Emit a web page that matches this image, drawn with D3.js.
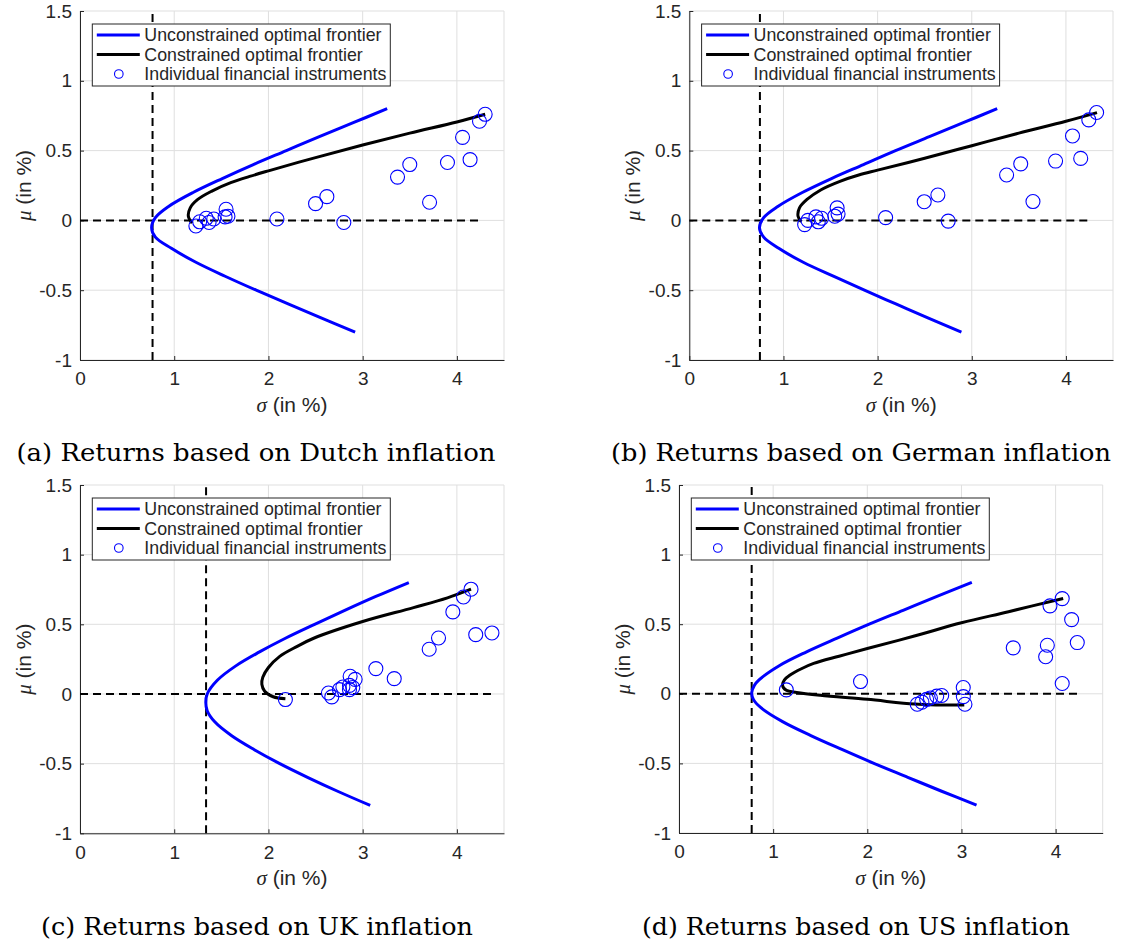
<!DOCTYPE html>
<html>
<head>
<meta charset="utf-8">
<script src="https://cdn.jsdelivr.net/npm/d3@7"></script>
<style>
  body { margin: 0; background: #fff; }
  svg { display: block; }
</style>
</head>
<body>
<script>
// values: [sigma, mu] in %

const sigmaTicks = [0, 1, 2, 3, 4];
const muTicks = [-1, -0.5, 0, 0.5, 1, 1.5];
const legendLabels = ["Unconstrained optimal frontier", "Constrained optimal frontier", "Individual financial instruments"];
const captions = [
  "(a) Returns based on Dutch inflation",
  "(b) Returns based on German inflation",
  "(c) Returns based on UK inflation",
  "(d) Returns based on US inflation"
];

// (a) Dutch
const unconstrainedNL = [[2.92,-0.80],[2.565,-0.70],[2.215,-0.60],[1.87,-0.50],[1.54,-0.40],[1.23,-0.30],[0.97,-0.20],[0.80,-0.12],[0.76,-0.05],[0.80,0.02],[0.94,0.10],[1.20,0.20],[1.51,0.30],[1.84,0.40],[2.19,0.50],[2.54,0.60],[2.90,0.70],[3.26,0.80]];
const constrainedNL = [[1.19,-0.02],[1.15,0.03],[1.17,0.09],[1.25,0.15],[1.40,0.21],[1.60,0.27],[1.80,0.315],[2.0,0.355],[2.5,0.45],[3.0,0.54],[3.5,0.625],[4.0,0.705],[4.30,0.76]];
const assetsNL = [[1.23,-0.04],[1.27,-0.01],[1.34,0.015],[1.37,-0.015],[1.42,0.01],[1.55,0.08],[1.57,0.03],[1.54,0.025],[2.09,0.01],[2.50,0.12],[2.62,0.17],[2.80,-0.015],[3.37,0.31],[3.50,0.40],[3.71,0.13],[3.90,0.415],[4.06,0.595],[4.14,0.435],[4.24,0.71],[4.30,0.76]];

// (b) German
const unconstrainedDE = [[2.89,-0.80],[2.54,-0.70],[2.20,-0.60],[1.86,-0.50],[1.53,-0.40],[1.21,-0.30],[0.95,-0.20],[0.79,-0.12],[0.745,-0.053],[0.79,0.02],[0.94,0.10],[1.20,0.20],[1.51,0.30],[1.85,0.40],[2.19,0.50],[2.55,0.60],[2.91,0.70],[3.27,0.80]];
const constrainedDE = [[1.19,-0.01],[1.155,0.03],[1.17,0.09],[1.25,0.15],[1.40,0.22],[1.60,0.28],[1.80,0.325],[2.0,0.36],[2.5,0.445],[3.0,0.535],[3.5,0.625],[4.0,0.71],[4.33,0.772]];
const assetsDE = [[1.225,-0.03],[1.26,0.0],[1.345,0.025],[1.37,-0.01],[1.405,0.015],[1.57,0.09],[1.58,0.045],[1.545,0.03],[2.085,0.02],[2.495,0.134],[2.64,0.182],[2.75,-0.005],[3.37,0.325],[3.52,0.405],[3.65,0.135],[3.89,0.425],[4.07,0.605],[4.157,0.444],[4.243,0.72],[4.326,0.773]];

// (c) UK
const unconstrainedUK = [[3.08,-0.80],[2.74,-0.70],[2.42,-0.60],[2.12,-0.50],[1.85,-0.40],[1.61,-0.30],[1.43,-0.20],[1.35,-0.12],[1.335,-0.06],[1.35,0.0],[1.46,0.10],[1.65,0.20],[1.90,0.30],[2.18,0.40],[2.49,0.50],[2.81,0.60],[3.14,0.70],[3.49,0.80]];
const constrainedUK = [[2.18,-0.035],[2.05,-0.02],[1.96,0.02],[1.93,0.07],[1.94,0.12],[2.0,0.19],[2.12,0.27],[2.30,0.34],[2.48,0.40],[3.0,0.52],[3.54,0.62],[3.90,0.69],[4.15,0.752]];
const assetsUK = [[2.18,-0.04],[2.637,0.007],[2.672,-0.021],[2.754,0.031],[2.79,0.05],[2.86,0.062],[2.867,0.127],[2.92,0.105],[2.86,0.031],[2.895,0.046],[3.14,0.182],[3.335,0.11],[3.706,0.321],[3.805,0.402],[3.957,0.589],[4.07,0.696],[4.15,0.752],[4.20,0.426],[4.372,0.438]];

// (d) US
const unconstrainedUS = [[3.16,-0.80],[2.79,-0.70],[2.43,-0.60],[2.07,-0.50],[1.73,-0.40],[1.40,-0.30],[1.10,-0.20],[0.87,-0.10],[0.79,-0.04],[0.772,0.007],[0.80,0.06],[0.85,0.10],[1.06,0.20],[1.35,0.30],[1.68,0.40],[2.02,0.50],[2.38,0.60],[2.74,0.70],[3.11,0.80]];
const constrainedUS = [[3.03,-0.08],[2.75,-0.08],[2.50,-0.074],[2.0,-0.04],[1.50,-0.01],[1.25,0.01],[1.14,0.025],[1.10,0.06],[1.12,0.10],[1.18,0.135],[1.30,0.18],[1.43,0.218],[1.70,0.27],[2.0,0.325],[2.5,0.415],[3.0,0.51],[3.5,0.59],[4.08,0.685]];
const assetsUS = [[1.14,0.028],[1.928,0.088],[2.53,-0.075],[2.58,-0.06],[2.63,-0.04],[2.67,-0.03],[2.737,-0.017],[2.79,-0.012],[3.019,0.045],[3.02,-0.02],[3.037,-0.075],[3.55,0.33],[3.894,0.266],[3.912,0.349],[3.94,0.632],[4.07,0.684],[4.17,0.533],[4.23,0.368],[4.07,0.074]];

// minimum-variance sigma (vertical dashed line) and end of the mu = 0 dashed line
const minSigma = [0.77, 0.75, 1.338, 0.772];
const zeroLineEnd = [4.25, 4.24, 4.37, 4.23];

const WIDTH = 1121, HEIGHT = 947;
const BLUE = "#0000ff", AXIS = "#262626", GRID = "#dfdfdf";
const SANS = "'Liberation Sans', Arial, sans-serif";

// plot boxes [left, top, right, bottom] and caption placement [centre x, baseline, width]
const boxes = [[80, 11, 504, 360], [689.3, 11, 1113, 360], [80, 485, 504, 833.3], [679, 485, 1102.7, 833]];
const captionPos = [[256, 461, 479], [861, 461, 500], [257, 935, 432], [856, 935, 428]];

const panels = [
  { unc: unconstrainedNL, con: constrainedNL, pts: assetsNL },
  { unc: unconstrainedDE, con: constrainedDE, pts: assetsDE },
  { unc: unconstrainedUK, con: constrainedUK, pts: assetsUK },
  { unc: unconstrainedUS, con: constrainedUS, pts: assetsUS }
];

const svg = d3.select("body").append("svg")
  .attr("width", WIDTH)
  .attr("height", HEIGHT)
  .style("background", "#fff");

panels.forEach(function(p, i) {
  const b = boxes[i];
  const x = d3.scaleLinear().domain([0, 4.5]).range([b[0], b[2]]);
  const y = d3.scaleLinear().domain([-1, 1.5]).range([b[3], b[1]]);
  const g = svg.append("g");

  // grid
  g.selectAll(".gx").data(sigmaTicks.concat([4.5])).enter().append("line")
    .attr("x1", d => x(d)).attr("x2", d => x(d))
    .attr("y1", y(-1)).attr("y2", y(1.5))
    .attr("stroke", GRID).attr("stroke-width", 1);
  g.selectAll(".gy").data(muTicks).enter().append("line")
    .attr("x1", x(0)).attr("x2", x(4.5))
    .attr("y1", d => y(d)).attr("y2", d => y(d))
    .attr("stroke", GRID).attr("stroke-width", 1);

  // axes (ticks point inward, box off)
  const xAxis = d3.axisBottom(x).tickValues(sigmaTicks).tickFormat(d => String(d))
    .tickSizeInner(-4).tickSizeOuter(0).tickPadding(12);
  const yAxis = d3.axisLeft(y).tickValues(muTicks).tickFormat(d => String(d))
    .tickSizeInner(-4).tickSizeOuter(0).tickPadding(8);
  const gx = g.append("g").attr("transform", "translate(0," + y(-1) + ")").call(xAxis);
  const gy = g.append("g").attr("transform", "translate(" + x(0) + ",0)").call(yAxis);
  [gx, gy].forEach(function(a) {
    a.select(".domain").attr("stroke", AXIS).attr("stroke-width", 1);
    a.selectAll(".tick line").attr("stroke", AXIS);
    a.selectAll(".tick text").attr("fill", AXIS).style("font-family", SANS).style("font-size", "19px");
  });

  // dashed reference lines
  g.append("line")
    .attr("x1", x(minSigma[i])).attr("x2", x(minSigma[i]))
    .attr("y1", y(-1)).attr("y2", y(1.5))
    .attr("stroke", "#000").attr("stroke-width", 2).attr("stroke-dasharray", "8,5");
  g.append("line")
    .attr("x1", x(0)).attr("x2", x(zeroLineEnd[i]))
    .attr("y1", y(0)).attr("y2", y(0))
    .attr("stroke", "#000").attr("stroke-width", 2).attr("stroke-dasharray", "8,5");

  const line = d3.line()
    .x(d => x(d[0]))
    .y(d => y(d[1]))
    .curve(d3.curveCatmullRom.alpha(0.5));

  g.append("path").datum(p.unc)
    .attr("d", line).attr("fill", "none")
    .attr("stroke", BLUE).attr("stroke-width", 3);
  g.append("path").datum(p.con)
    .attr("d", line).attr("fill", "none")
    .attr("stroke", "#000").attr("stroke-width", 3);

  g.selectAll(".asset").data(p.pts).enter().append("circle")
    .attr("cx", d => x(d[0])).attr("cy", d => y(d[1]))
    .attr("r", 7)
    .attr("fill", "none").attr("stroke", BLUE).attr("stroke-width", 1.1);

  // axis labels
  const xl = g.append("text")
    .attr("x", (b[0] + b[2]) / 2).attr("y", b[3] + 52)
    .attr("text-anchor", "middle")
    .attr("fill", AXIS).style("font-family", SANS).style("font-size", "21px");
  xl.append("tspan").style("font-style", "italic").style("font-family", "'Liberation Serif', serif").text("σ");
  xl.append("tspan").text(" (in %)");

  const cy = (b[1] + b[3]) / 2;
  const yl = g.append("text")
    .attr("transform", "translate(" + (b[0] - 49) + "," + cy + ") rotate(-90)")
    .attr("text-anchor", "middle")
    .attr("fill", AXIS).style("font-family", SANS).style("font-size", "21px");
  yl.append("tspan").style("font-style", "italic").style("font-family", "'Liberation Serif', serif").text("μ");
  yl.append("tspan").text(" (in %)");

  // legend
  const lx = b[0] + 12.3, ly = b[1] + 13;
  const leg = g.append("g").attr("transform", "translate(" + lx + "," + ly + ")");
  leg.append("rect")
    .attr("width", 298).attr("height", 62)
    .attr("fill", "#fff").attr("stroke", AXIS).attr("stroke-width", 1);
  const rows = [11, 30.5, 50];
  leg.append("line").attr("x1", 4.5).attr("x2", 47.5).attr("y1", rows[0]).attr("y2", rows[0])
    .attr("stroke", BLUE).attr("stroke-width", 3);
  leg.append("line").attr("x1", 4.5).attr("x2", 47.5).attr("y1", rows[1]).attr("y2", rows[1])
    .attr("stroke", "#000").attr("stroke-width", 3);
  leg.append("circle").attr("cx", 26.5).attr("cy", rows[2]).attr("r", 4.3)
    .attr("fill", "none").attr("stroke", BLUE).attr("stroke-width", 1.1);
  leg.selectAll(".lt").data(legendLabels).enter().append("text")
    .attr("x", 52).attr("y", (d, k) => rows[k] + 6.3)
    .attr("fill", AXIS).style("font-family", SANS).style("font-size", "17.8px")
    .text(d => d);

  // caption
  const c = captionPos[i];
  svg.append("text")
    .attr("x", c[0]).attr("y", c[1])
    .attr("text-anchor", "middle")
    .attr("textLength", c[2]).attr("lengthAdjust", "spacingAndGlyphs")
    .attr("fill", "#000")
    .style("font-family", "'DejaVu Serif', serif").style("font-size", "23.5px")
    .text(captions[i]);
});
</script>
</body>
</html>
